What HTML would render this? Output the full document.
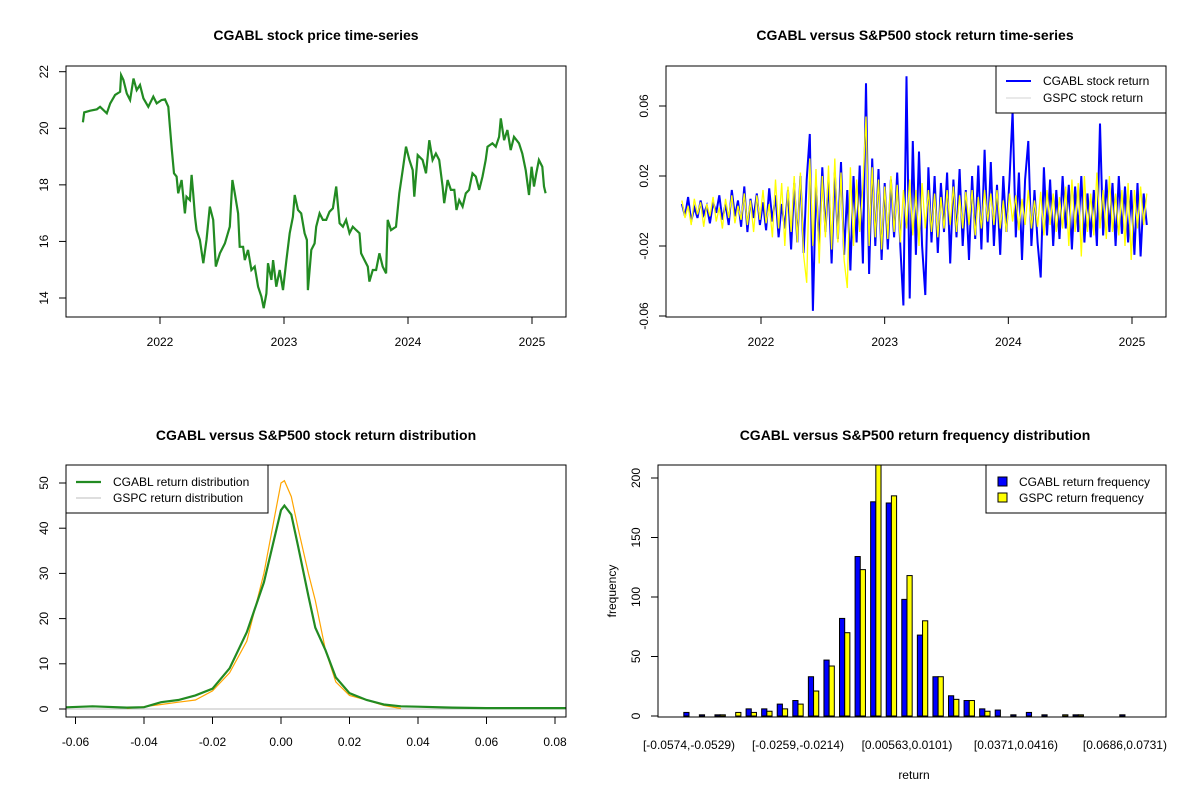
<!DOCTYPE html>
<html><head><meta charset="utf-8"><style>
body{margin:0;background:#fff}
svg{display:block;font-family:"Liberation Sans",Arial,sans-serif}
</style></head><body>
<svg id="s" width="1200" height="800" viewBox="0 0 1200 800"></svg>
<script>
// ---- price panel data ----
const priceDates=[2021.378,2021.389,2021.437,2021.491,2021.517,2021.571,2021.598,2021.638,2021.678,2021.686,2021.705,2021.732,2021.759,2021.786,2021.812,2021.839,2021.866,2021.906,2021.946,2021.973,2022.013,2022.040,2022.067,2022.080,2022.094,2022.113,2022.134,2022.147,2022.174,2022.201,2022.214,2022.241,2022.255,2022.268,2022.282,2022.295,2022.322,2022.349,2022.375,2022.402,2022.429,2022.450,2022.483,2022.523,2022.563,2022.584,2022.603,2022.630,2022.643,2022.670,2022.684,2022.710,2022.737,2022.764,2022.791,2022.818,2022.836,2022.858,2022.871,2022.898,2022.912,2022.938,2022.965,2022.992,2023.019,2023.046,2023.072,2023.086,2023.113,2023.139,2023.166,2023.185,2023.193,2023.220,2023.247,2023.260,2023.287,2023.314,2023.340,2023.367,2023.394,2023.421,2023.448,2023.475,2023.501,2023.528,2023.555,2023.582,2023.609,2023.622,2023.649,2023.676,2023.689,2023.716,2023.743,2023.769,2023.796,2023.823,2023.836,2023.863,2023.903,2023.930,2023.957,2023.984,2024.011,2024.038,2024.051,2024.078,2024.118,2024.145,2024.172,2024.198,2024.225,2024.252,2024.279,2024.292,2024.319,2024.346,2024.373,2024.391,2024.413,2024.440,2024.466,2024.493,2024.520,2024.547,2024.574,2024.601,2024.627,2024.641,2024.681,2024.708,2024.735,2024.748,2024.775,2024.802,2024.828,2024.855,2024.895,2024.922,2024.949,2024.976,2024.997,2025.016,2025.035,2025.056,2025.083,2025.097,2025.110];
const priceValues=[20.21,20.56,20.62,20.67,20.76,20.53,20.88,21.18,21.29,21.88,21.71,21.23,21.00,21.76,21.35,21.53,21.06,20.76,21.12,20.88,21.00,21.02,20.76,20.06,19.29,18.41,18.29,17.70,18.17,16.99,17.58,17.46,18.35,17.70,16.87,16.40,16.05,15.23,16.05,17.23,16.76,15.11,15.58,15.93,16.52,18.17,17.70,16.99,15.81,15.81,15.34,15.70,14.99,15.11,14.40,14.05,13.64,14.16,15.23,14.64,15.34,14.40,14.99,14.28,15.34,16.29,16.87,17.64,17.11,16.99,16.29,16.05,14.28,15.70,15.93,16.52,16.99,16.76,16.76,17.05,17.17,17.94,16.64,16.52,16.76,16.29,16.52,16.40,16.29,15.58,15.34,15.11,14.58,14.99,14.99,15.58,15.11,14.87,16.76,16.40,16.52,17.70,18.52,19.35,18.88,18.52,17.58,19.05,18.88,18.41,19.58,18.88,19.11,18.88,17.94,17.35,18.17,17.82,17.82,17.11,17.46,17.23,17.70,17.82,18.41,18.29,17.82,18.29,18.88,19.35,19.47,19.35,19.70,20.35,19.58,19.94,19.23,19.70,19.47,19.11,18.52,17.64,18.64,17.94,18.41,18.88,18.64,17.94,17.70];
const priceYTicks=[14,16,18,20,22];
const yearTicks=[2022,2023,2024,2025];
// ---- return series data (daily-ish samples, evenly spaced from startYear to endYear) ----
const retStartYear=2021.36, retEndYear=2025.12;
const cgablReturns=[0.004,-0.003,0.008,-0.006,0.002,-0.004,0.006,-0.002,0.003,-0.007,0.005,-0.001,0.009,-0.005,0.004,-0.008,0.012,-0.003,0.006,-0.009,
0.014,-0.012,0.007,-0.004,0.01,-0.008,0.005,-0.011,0.013,-0.006,0.009,-0.015,0.004,-0.01,0.012,-0.022,0.016,-0.018,0.02,-0.024,
0.018,0.044,-0.057,0.015,-0.02,0.025,-0.012,0.018,-0.03,0.022,-0.016,0.028,-0.025,0.012,-0.034,0.02,-0.018,0.026,-0.03,0.073,
-0.036,0.03,-0.02,0.024,-0.028,0.016,-0.022,0.018,-0.015,0.022,-0.02,-0.054,0.077,-0.05,0.04,-0.025,0.034,-0.02,-0.048,0.025,
-0.018,0.02,-0.024,0.016,-0.012,0.022,-0.03,0.018,-0.015,0.024,-0.02,0.012,-0.028,0.02,-0.016,0.026,-0.022,0.035,-0.018,0.028,
-0.02,0.015,-0.025,0.02,-0.012,0.018,0.057,-0.015,0.022,-0.028,0.018,0.04,-0.02,0.012,-0.018,-0.038,0.025,-0.014,0.018,-0.02,
0.012,-0.016,0.02,-0.01,0.015,-0.022,0.014,-0.012,0.02,-0.018,0.01,-0.015,0.012,-0.02,0.05,-0.014,0.018,-0.012,0.016,-0.02,
0.02,-0.013,0.014,-0.018,0.012,-0.025,0.016,-0.026,0.01,-0.008];
const gspcReturns=[0.006,-0.004,0.003,-0.008,0.007,-0.002,0.005,-0.009,0.004,-0.003,0.008,-0.006,0.002,-0.01,0.007,-0.004,0.009,-0.007,0.003,-0.005,
0.01,-0.008,0.006,-0.012,0.009,-0.005,0.012,-0.007,0.004,-0.015,0.018,-0.01,0.016,-0.02,0.014,-0.012,0.02,-0.018,0.022,-0.025,
-0.041,0.03,-0.02,0.024,-0.03,0.02,-0.015,0.026,-0.022,0.03,-0.018,0.022,-0.028,-0.044,0.025,-0.02,0.018,-0.012,0.015,0.054,
-0.02,0.025,-0.015,0.018,-0.022,0.014,-0.016,0.02,-0.012,0.015,-0.018,0.012,-0.01,0.018,-0.014,0.012,-0.02,0.016,-0.01,0.012,
-0.012,0.01,-0.015,0.008,-0.01,0.012,-0.008,0.014,-0.012,0.009,-0.01,0.011,-0.008,0.012,-0.014,0.008,-0.01,0.012,-0.006,0.01,
-0.008,0.012,-0.01,0.006,-0.012,0.01,-0.006,0.009,-0.011,0.007,-0.008,0.012,-0.01,0.006,-0.009,0.011,-0.014,0.012,-0.008,0.01,
-0.012,0.008,-0.01,0.014,-0.02,0.018,-0.012,0.016,-0.026,0.02,-0.012,0.01,-0.014,0.022,-0.01,0.012,-0.016,0.02,-0.012,0.01,
-0.014,0.012,-0.02,0.016,-0.028,0.012,-0.01,0.014,-0.008,0.01];
const retYTicks=[-0.06,-0.02,0.02,0.06];
// ---- density data ----
const cgablDensX=[-0.065,-0.055,-0.045,-0.04,-0.035,-0.03,-0.025,-0.02,-0.015,-0.01,-0.005,0,0.001,0.003,0.005,0.008,0.01,0.013,0.016,0.02,0.025,0.03,0.035,0.04,0.05,0.06,0.07,0.08,0.085];
const cgablDensY=[0.3,0.6,0.3,0.4,1.5,2.0,3,4.5,9,17,28,44,45,43,36,25,18,13,7,3.5,2,1,0.6,0.5,0.3,0.2,0.2,0.2,0.2];
const gspcDensX=[-0.045,-0.04,-0.035,-0.03,-0.025,-0.02,-0.015,-0.01,-0.005,-0.002,0,0.001,0.003,0.005,0.008,0.01,0.013,0.016,0.02,0.025,0.03,0.035];
const gspcDensY=[0.1,0.5,1,1.5,2,4,8,15,30,42,50,50.5,47,40,30,24,13,6,3,2,0.8,0.1];
const densXTicks=[-0.06,-0.04,-0.02,0,0.02,0.04,0.06,0.08];
const densYTicks=[0,10,20,30,40,50];
// ---- histogram data ----
const histLabels=["[-0.0574,-0.0529)","","","","","","","[-0.0259,-0.0214)","","","","","","","[0.00563,0.0101)","","","","","","","[0.0371,0.0416)","","","","","","","[0.0686,0.0731)",""];
const cgablFreq=[3,1,1,0,6,6,10,13,33,47,82,134,180,179,98,68,33,17,13,6,5,1,3,1,0,1,0,0,1,0];
const gspcFreq=[0,0,1,3,3,4,6,10,21,42,70,123,215,185,118,80,33,14,13,4,0,0,0,0,1,1,0,0,0,0];
const histYTicks=[0,50,100,150,200];

const NS="http://www.w3.org/2000/svg";
const svg=document.getElementById('s');
function mk(tag,attrs,parent){const e=document.createElementNS(NS,tag);for(const k in attrs)e.setAttribute(k,attrs[k]);(parent||svg).appendChild(e);return e;}
function txt(x,y,s,opt,parent){const t=mk('text',Object.assign({x:x,y:y,'font-size':12,'text-anchor':'middle',fill:'#000'},opt||{}),parent);t.textContent=s;return t;}
function lin(d0,d1,r0,r1){return v=>r0+(v-d0)/(d1-d0)*(r1-r0);}

// ===== Panel 1: price =====
(function(){
  const g=mk('g',{});
  
  
  const L=66,R=566,T=66,B=317;
  const x=lin(2022,2025,160,532), y=lin(22,14,71.7,298);
  const t=txt(316,40,'CGABL stock price time-series',{'font-size':14,'font-weight':'bold'},g);
  
  const pts=priceDates.map((d,i)=>x(d).toFixed(1)+','+y(priceValues[i]).toFixed(1)).join(' ');
  const pl=mk('polyline',{points:pts,fill:'none',stroke:'#228b22','stroke-width':2.2,'stroke-linejoin':'miter'},g);
  
  const bx=mk('rect',{x:L,y:T,width:R-L,height:B-T,fill:'none',stroke:'#000'},g);
  
  yearTicks.forEach(v=>{mk('line',{x1:x(v),x2:x(v),y1:B,y2:B+7,stroke:'#000'},g);const l=txt(x(v),B+29,String(v),{},g);});
  priceYTicks.forEach(v=>{mk('line',{x1:L-7,x2:L,y1:y(v),y2:y(v),stroke:'#000'},g);const l=txt(0,0,String(v),{transform:`translate(${L-18},${y(v)}) rotate(-90)`},g);});
})();

// ===== Panel 2: returns =====
(function(){
  const g=mk('g',{});
  
  
  const L=666,R=1166,T=66,B=317;
  const x=lin(2022,2025,761,1132), y=lin(0,0.04,211,141);
  const t=txt(915,40,'CGABL versus S&P500 stock return time-series',{'font-size':14,'font-weight':'bold'},g);
  
  const n=cgablReturns.length;
  const dx=i=>x(retStartYear+(retEndYear-retStartYear)*i/(n-1));
  const p1=mk('polyline',{points:cgablReturns.map((v,i)=>dx(i).toFixed(1)+','+y(v).toFixed(1)).join(' '),fill:'none',stroke:'#0000ff','stroke-width':2},g);
  
  const m=gspcReturns.length;
  const dx2=i=>x(retStartYear+(retEndYear-retStartYear)*i/(m-1));
  const p2=mk('polyline',{points:gspcReturns.map((v,i)=>dx2(i).toFixed(1)+','+y(v).toFixed(1)).join(' '),fill:'none',stroke:'#ffff00','stroke-width':1.3},g);
  
  const bx=mk('rect',{x:L,y:T,width:R-L,height:B-T,fill:'none',stroke:'#000'},g);
  
  yearTicks.forEach(v=>{mk('line',{x1:x(v),x2:x(v),y1:B,y2:B+7,stroke:'#000'},g);const l=txt(x(v),B+29,String(v),{},g);});
  retYTicks.forEach(v=>{mk('line',{x1:L-7,x2:L,y1:y(v),y2:y(v),stroke:'#000'},g);const l=txt(0,0,v.toFixed(2),{transform:`translate(${L-18},${y(v)}) rotate(-90)`},g);});
  const lg=mk('g',{},g);
  
  mk('rect',{x:996,y:66,width:170,height:47,fill:'#fff',stroke:'#000'},lg);
  mk('line',{x1:1006,x2:1031,y1:81,y2:81,stroke:'#0000ff','stroke-width':2},lg);
  mk('line',{x1:1006,x2:1031,y1:98,y2:98,stroke:'#d3d3d3','stroke-width':1},lg);
  txt(1043,85,'CGABL stock return',{'text-anchor':'start'},lg);
  txt(1043,102,'GSPC stock return',{'text-anchor':'start'},lg);
})();

// ===== Panel 3: density =====
(function(){
  const g=mk('g',{});
  
  
  const L=66,R=566,T=465,B=717;
  const x=lin(0,0.02,281,349.5), y=lin(0,50,709,483);
  const t=txt(316,440,'CGABL versus S&P500 stock return distribution',{'font-size':14,'font-weight':'bold'},g);
  
  const cp=mk('clipPath',{id:'c3'},g);mk('rect',{x:L,y:T,width:R-L,height:B-T},cp);
  const zl=mk('line',{x1:L,x2:R,y1:y(0),y2:y(0),stroke:'#bebebe'},g);
  
  const p2=mk('polyline',{points:gspcDensX.map((v,i)=>x(v).toFixed(1)+','+y(gspcDensY[i]).toFixed(1)).join(' '),fill:'none',stroke:'#ffa500','stroke-width':1.2,'clip-path':'url(#c3)'},g);
  
  const p1=mk('polyline',{points:cgablDensX.map((v,i)=>x(v).toFixed(1)+','+y(cgablDensY[i]).toFixed(1)).join(' '),fill:'none',stroke:'#228b22','stroke-width':2.2,'clip-path':'url(#c3)'},g);
  
  const bx=mk('rect',{x:L,y:T,width:R-L,height:B-T,fill:'none',stroke:'#000'},g);
  
  densXTicks.forEach(v=>{mk('line',{x1:x(v),x2:x(v),y1:B,y2:B+7,stroke:'#000'},g);const l=txt(x(v),B+29,v===0?'0.00':v.toFixed(2),{},g);});
  densYTicks.forEach(v=>{mk('line',{x1:L-7,x2:L,y1:y(v),y2:y(v),stroke:'#000'},g);const l=txt(0,0,String(v),{transform:`translate(${L-18},${y(v)}) rotate(-90)`},g);});
  const lg=mk('g',{},g);
  
  mk('rect',{x:66,y:465,width:202,height:48,fill:'#fff',stroke:'#000'},lg);
  mk('line',{x1:76,x2:101,y1:482,y2:482,stroke:'#228b22','stroke-width':2.2},lg);
  mk('line',{x1:76,x2:101,y1:498,y2:498,stroke:'#bebebe','stroke-width':1},lg);
  txt(113,486,'CGABL return distribution',{'text-anchor':'start'},lg);
  txt(113,502,'GSPC return distribution',{'text-anchor':'start'},lg);
})();

// ===== Panel 4: histogram =====
(function(){
  const g=mk('g',{});
  
  
  const L=658,R=1166,T=465,B=717;
  const y=lin(0,200,716,478);
  const gx=i=>689+15.57*i, bw=5.19;
  const t=txt(915,440,'CGABL versus S&P500 return frequency distribution',{'font-size':14,'font-weight':'bold'},g);
  
  const cp=mk('clipPath',{id:'c4'},g);mk('rect',{x:L,y:T,width:R-L,height:B-T},cp);
  const bars=mk('g',{'clip-path':'url(#c4)'},g);
  cgablFreq.forEach((v,i)=>{const r=mk('rect',{x:gx(i)-bw,y:y(v),width:bw,height:Math.max(0,y(0)-y(v)),fill:'#0000ff',stroke:'#000','stroke-width':1},bars);
    
    });
  gspcFreq.forEach((v,i)=>{const r=mk('rect',{x:gx(i),y:y(v),width:bw,height:Math.max(0,y(0)-y(v)),fill:'#ffff00',stroke:'#000','stroke-width':1},bars);
    
    });
  const bx=mk('rect',{x:L,y:T,width:R-L,height:B-T,fill:'none',stroke:'#000'},g);
  
  histLabels.forEach((s,i)=>{if(s){const l=txt(gx(i),749,s,{},g);}});
  histYTicks.forEach(v=>{mk('line',{x1:L-7,x2:L,y1:y(v),y2:y(v),stroke:'#000'},g);const l=txt(0,0,String(v),{transform:`translate(${L-18},${y(v)}) rotate(-90)`},g);});
  const yt=txt(0,0,'frequency',{transform:'translate(616,591) rotate(-90)'},g);
  
  const xt=txt(914,779,'return',{},g);
  
  const lg=mk('g',{},g);
  
  mk('rect',{x:986,y:465,width:180,height:48,fill:'#fff',stroke:'#000'},lg);
  mk('rect',{x:998,y:477,width:9,height:9,fill:'#0000ff',stroke:'#000'},lg);
  mk('rect',{x:998,y:493,width:9,height:9,fill:'#ffff00',stroke:'#000'},lg);
  txt(1019,486,'CGABL return frequency',{'text-anchor':'start'},lg);
  txt(1019,502,'GSPC return frequency',{'text-anchor':'start'},lg);
})();
</script>
</body></html>
